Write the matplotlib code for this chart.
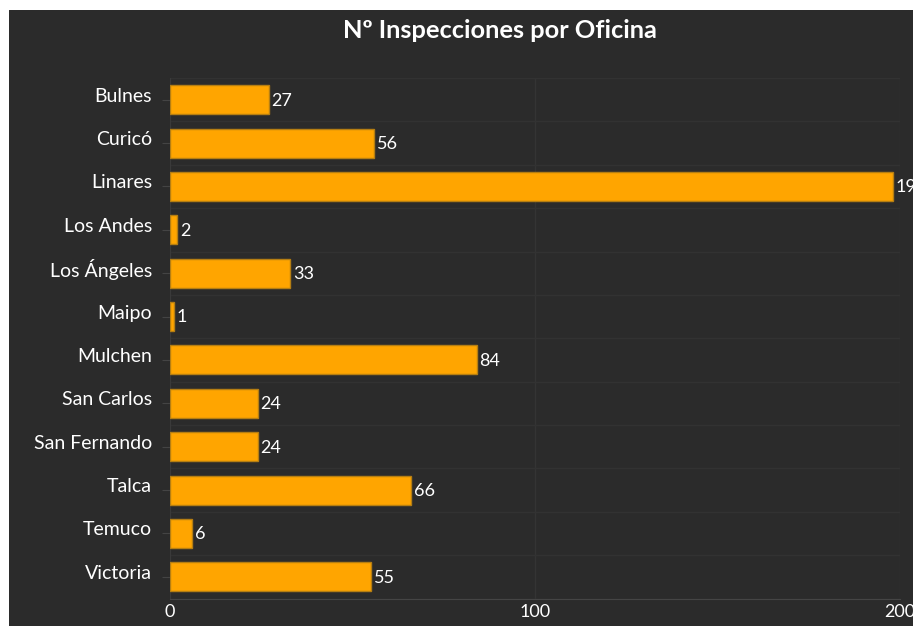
import matplotlib.pyplot as plt

oficinas = ['Bulnes', 'Curicó', 'Linares', 'Los Andes', 'Los Ángeles', 'Maipo',
            'Mulchen', 'San Carlos', 'San Fernando', 'Talca', 'Temuco', 'Victoria']
inspecciones = [27, 56, 198, 2, 33, 1, 84, 24, 24, 66, 6, 55]
ticks = [0, 100, 200]

plt.rcParams['font.family'] = ['Lato', 'DejaVu Sans']

bg = '#2b2b2b'
fig = plt.figure(figsize=(9.13, 6.26), dpi=100, facecolor='white')
# dark panel (screenshot is cropped with a white strip at top and left)
back = fig.add_axes([9 / 913, 0, 1 - 9 / 913, 1 - 10 / 626], zorder=0)
back.set_facecolor(bg)
back.axis('off')
back.add_patch(plt.Rectangle((0, 0), 1, 1, transform=back.transAxes, color=bg))

ax = fig.add_axes([170 / 913, 1 - 598.5 / 626, 730 / 913, 520.5 / 626], zorder=1)
ax.set_facecolor(bg)

y = range(len(oficinas))
ax.barh(y, inspecciones, height=0.67, color='#ffa500', edgecolor='#b57e12', linewidth=1, zorder=3)
for i, v in enumerate(inspecciones):
    ax.text(v + 0.8, i + 0.02, str(v), color='white', fontsize=13, va='center', ha='left',
            clip_on=False)

ax.set_xlim(0, 200)
ax.set_ylim(len(oficinas) - 0.5, -0.5)
ax.set_yticks(list(y))
ax.set_yticklabels([])
# category names sit a little above their tick
for i, name in enumerate(oficinas):
    ax.annotate(name, xy=(0, i), xycoords=('axes fraction', 'data'), xytext=(-13, 2.5),
                textcoords='offset points', ha='right', va='center', color='white',
                fontsize=14, annotation_clip=False)
ax.set_xticks(ticks)
ax.set_xticklabels([str(t) for t in ticks], color='white', fontsize=13)

# grid: vertical at ticks, horizontal between categories
for t in ticks:
    ax.axvline(t, color='#343434', lw=1, zorder=1)
for b in range(len(oficinas) + 1):
    ax.axhline(b - 0.5, color='#323232', lw=1, zorder=1)

for s in ['top', 'right']:
    ax.spines[s].set_visible(False)
ax.spines['left'].set_color('#3a3a3a')
ax.spines['bottom'].set_color('#454545')
ax.tick_params(axis='y', length=6, color='#444444')
ax.tick_params(axis='x', length=0, pad=4)

fig.text(500 / 913, 1 - 30 / 626, 'Nº Inspecciones por Oficina', color='white',
         fontsize=18.3, fontweight='bold', ha='center', va='center', zorder=5)

fig.savefig('out.png', dpi=100, facecolor=fig.get_facecolor())
